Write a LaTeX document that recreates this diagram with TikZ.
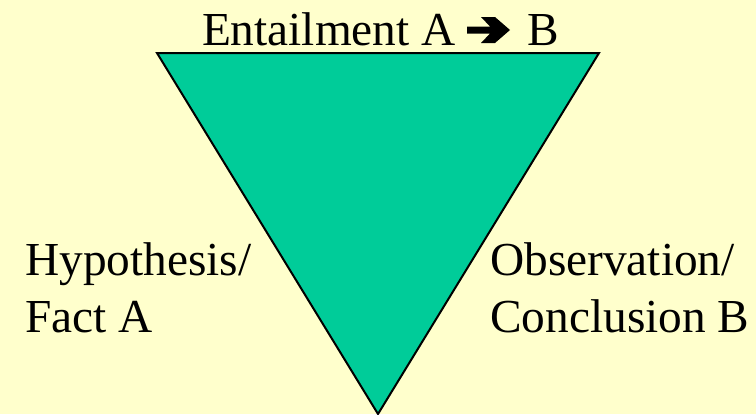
\documentclass[tikz,border=0pt]{standalone}
\usepackage{fontspec}
\setmainfont{Liberation Serif}
\definecolor{bgyellow}{HTML}{FFFFCC}
\definecolor{triteal}{HTML}{00CC99}
\begin{document}
\begin{tikzpicture}[x=0.75pt,y=-0.75pt,
  lbl/.style={font=\fontsize{35.5}{43}\selectfont, inner sep=0pt, text=black}]
\useasboundingbox (0,0) rectangle (756,414);
\fill[bgyellow] (0,0) rectangle (756,414);
\coordinate (tl) at (157,53);
\coordinate (tr) at (599,53);
\coordinate (bt) at (378,414);
\filldraw[fill=triteal, draw=black, line width=1.5pt, line join=miter] (tl) -- (tr) -- (bt) -- cycle;
\node[lbl, anchor=base east] (ent) at (456,45) {Entailment A};
\node[lbl, anchor=base west] (entb) at (527,45) {B};
\fill[black] (467,26.5) -- (490,26.5) -- (481,17) -- (495,17) -- (510,30) -- (495,43) -- (481,43) -- (490,33.5) -- (467,33.5) -- cycle;
\node[lbl, anchor=base west] (hyp1) at (25,275) {Hypothesis/};
\node[lbl, anchor=base west] (hyp2) at (25,332) {Fact A};
\node[lbl, anchor=base west] (obs1) at (490,275) {Observation/};
\node[lbl, anchor=base west] (obs2) at (490,332) {Conclusion B};
\end{tikzpicture}
\end{document}
